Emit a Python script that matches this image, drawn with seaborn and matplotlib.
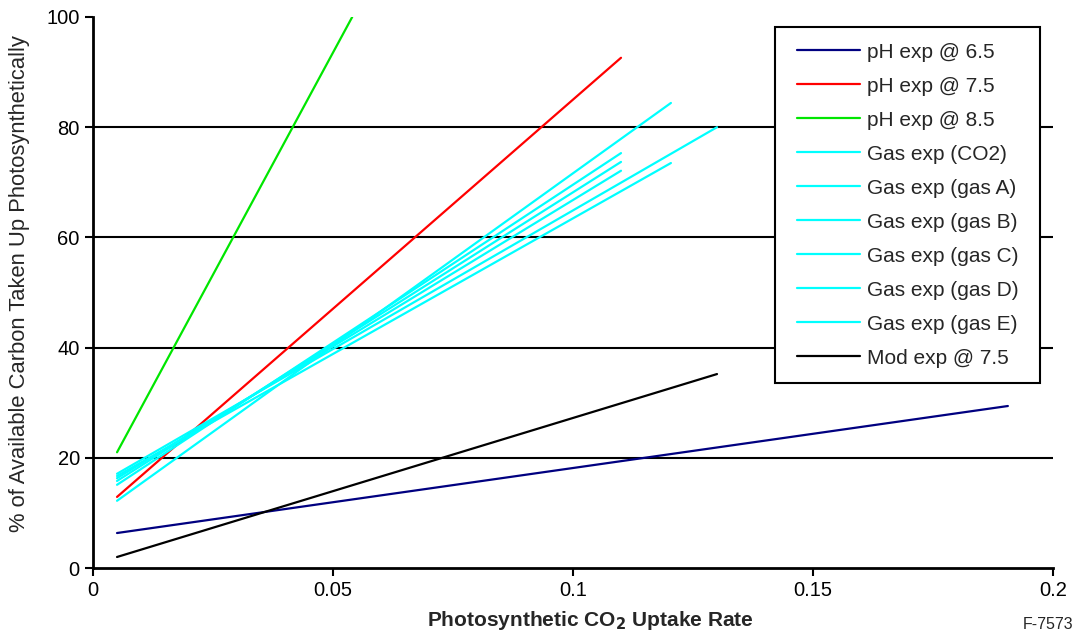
import numpy as np
import pandas as pd
import seaborn as sns
import matplotlib.pyplot as plt

# series endpoints
series = ['pH exp @ 6.5', 'pH exp @ 7.5', 'pH exp @ 8.5',
          'Gas exp (CO2)', 'Gas exp (gas A)', 'Gas exp (gas B)',
          'Gas exp (gas C)', 'Gas exp (gas D)', 'Gas exp (gas E)',
          'Mod exp @ 7.5']
x_start = [0.005, 0.005, 0.005, 0.005, 0.005, 0.005, 0.005, 0.005, 0.005, 0.005]
x_end = [0.1906, 0.110, 0.054, 0.1204, 0.130, 0.110, 0.110, 0.110, 0.1204, 0.130]
y_start = [6.35, 12.9, 21.0, 12.2, 17.1, 15.1, 15.8, 16.3, 16.7, 2.0]
y_end = [29.4, 92.6, 100.0, 84.4, 80.0, 75.3, 73.7, 72.1, 73.5, 35.2]
colors = ['#000080', '#ff0000', '#00e600', '#00ffff', '#00ffff', '#00ffff',
          '#00ffff', '#00ffff', '#00ffff', '#000000']

rows = []
for s, x0, x1, y0, y1 in zip(series, x_start, x_end, y_start, y_end):
    rows.append({'series': s, 'x': x0, 'y': y0})
    rows.append({'series': s, 'x': x1, 'y': y1})
df = pd.DataFrame(rows)

sns.set_style('white')
plt.rcParams['font.family'] = ['Liberation Sans', 'DejaVu Sans']

fig = plt.figure(figsize=(10.78, 6.39), dpi=100)
ax = fig.add_axes([0.0863, 0.1111, 0.8905, 0.8623])

sns.lineplot(data=df, x='x', y='y', hue='series', hue_order=series,
             palette=dict(zip(series, colors)), linewidth=1.6, ax=ax,
             sort=False, estimator=None)

ax.set_xlim(0, 0.2)
ax.set_ylim(0, 100)
ax.set_xticks([0, 0.05, 0.1, 0.15, 0.2])
ax.set_xticklabels(['0', '0.05', '0.1', '0.15', '0.2'])
ax.set_yticks([0, 20, 40, 60, 80, 100])
for yv in [20, 40, 60, 80]:
    ax.axhline(yv, color='black', lw=1.5, zorder=0)

for side in ['top', 'right']:
    ax.spines[side].set_visible(False)
for side in ['left', 'bottom']:
    ax.spines[side].set_color('black')
    ax.spines[side].set_linewidth(2)
ax.tick_params(axis='both', direction='out', length=6, width=1.5,
               labelsize=14.5, colors='black', left=True, bottom=True)

ax.set_xlabel(r'Photosynthetic CO$_\mathbf{2}$ Uptake Rate', fontsize=15,
              fontweight='bold')
ax.xaxis.set_label_coords(0.518, -0.075)
ax.set_ylabel('% of Available Carbon Taken Up Photosynthetically',
              fontsize=15.8)
ax.yaxis.set_label_coords(-0.066, 0.516)

leg = ax.legend(loc='upper right', bbox_to_anchor=(0.980, 0.982),
                borderaxespad=0, fontsize=15, handlelength=3.0,
                labelspacing=0.72, frameon=True, fancybox=False,
                borderpad=0.75, handletextpad=0.33)
frame = leg.get_frame()
frame.set_edgecolor('black')
frame.set_linewidth(1.5)
frame.set_alpha(1)
# extra horizontal padding only (vertical squeezed out via mutation aspect)
frame.set_boxstyle('square', pad=0.3)
frame.set_mutation_aspect(0.01)
for line in leg.get_lines():
    line.set_linewidth(1.6)

fig.text(0.972, 0.022, 'F-7573', fontsize=11.5, ha='center', va='center')

fig.savefig('out.png', dpi=100)
